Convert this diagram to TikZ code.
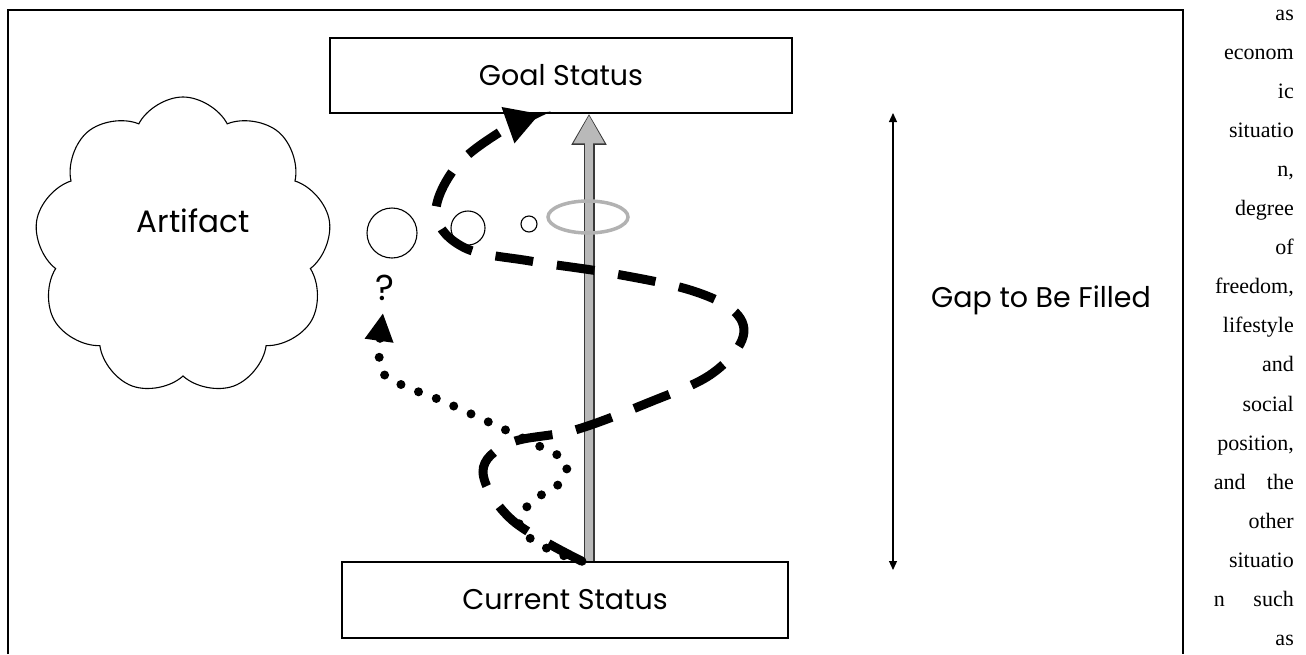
\documentclass[tikz,border=0pt]{standalone}
\usepackage{fontspec}
\setmainfont{Liberation Serif}
\newfontfamily\gothic{Poppins}
\usetikzlibrary{arrows.meta,shapes.symbols,shapes.geometric}
\begin{document}
\begin{tikzpicture}[x=1pt,y=-1pt,
  box/.style={draw, line width=1.5pt, inner sep=0pt},
  lbl/.style={font=\gothic\fontsize{28.5}{32}\selectfont, inner sep=0pt},
  col/.style={anchor=base east, font=\fontsize{22}{26}\selectfont, inner sep=0pt},
  bubble/.style={draw, line width=1.1pt},
  spiral/.style={line width=9pt, dash pattern=on 38pt off 24pt, -{Triangle[length=34pt,width=36pt]}},
  dotpath/.style={line width=9pt, line cap=round, dash pattern=on 0pt off 19pt, -{Triangle[length=28pt,width=27pt]}},
  gaparrow/.style={line width=1.2pt, {Triangle[length=9pt,width=8pt]}-{Triangle[length=9pt,width=8pt]}},
]
\useasboundingbox (0,0) rectangle (1306,654);
% frame
\draw[line width=1.5pt] (8,654) -- (8,10) -- (1183,10) -- (1183,654);
% boxes
\node[box, minimum width=462pt, minimum height=75pt, lbl] (goal) at (561,75.5) {Goal Status};
\node[box, minimum width=446pt, minimum height=76pt, lbl] (current) at (565,600) {Current Status};
% cloud
\node[cloud, draw, line width=1.1pt, cloud puffs=9, cloud puff arc=125, aspect=1, minimum width=297pt, minimum height=298pt, inner sep=0pt] (artifact) at (183,246) {};
\node[lbl, font=\gothic\fontsize{31}{34}\selectfont] (artifacttext) at (193,221) {Artifact};
% bubbles
\node[bubble, circle, minimum size=50pt, inner sep=0pt] (b1) at (392,233) {};
\node[bubble, circle, minimum size=34pt, inner sep=0pt] (b2) at (468,228) {};
\node[bubble, circle, minimum size=16pt, inner sep=0pt] (b3) at (529,224) {};
\node[lbl, font=\gothic\fontsize{36}{40}\selectfont] (q) at (385,288) {?};
% gray arrow
\coordinate (ax) at (589,0);
\draw[line width=11pt, draw=gray!45!black, -{Triangle[length=31pt,width=33pt]}] (current.north -| ax) -- (goal.south -| ax);
\draw[line width=8pt, draw=gray!55, shorten >=1.5pt, -{Triangle[length=28pt,width=29pt]}] (current.north -| ax) -- (goal.south -| ax);
\node[draw=gray!60, line width=3.5pt, ellipse, minimum width=80pt, minimum height=32pt, inner sep=0pt] (ring) at (588,217) {};
% dashed spiral
\coordinate (sx) at (582,0);
\coordinate (ex) at (540,0);
\draw[spiral] plot[smooth, tension=0.6] coordinates {(current.north -| sx) (512,520) (483,472) (510,443) (575,430) (650,402) (710,375) (742,340) (735,312) (690,290) (610,273) (530,261) (465,248) (436,215) (455,168) (500,132) (goal.south -| ex)};
% dotted path
\coordinate (dq) at (383,313);
\draw[dotpath] plot[smooth, tension=0.6] coordinates {(current.north -| sx) (550,550) (520,528) (530,503) (560,483) (566,462) (545,449) (495,425) (440,400) (400,384) (380,366) (dq)};
% gap arrow
\coordinate (gt) at (893,113);
\coordinate (gb) at (893,570);
\draw[gaparrow] (gb) -- (gt);
\node[lbl] (gap) at (1041,300) {Gap to Be Filled};
% right column
\foreach \t [count=\i from 0] in {as,econom,ic,situatio,{n,},degree,of,{freedom,},lifestyle,and,social,{position,},{and\hfill the},other,situatio,{n\hfill such},as}{
  \node[col] (t\i) at (1294, 20+39.1*\i) {\makebox[80pt][r]{\t}};
}
\end{tikzpicture}
\end{document}
